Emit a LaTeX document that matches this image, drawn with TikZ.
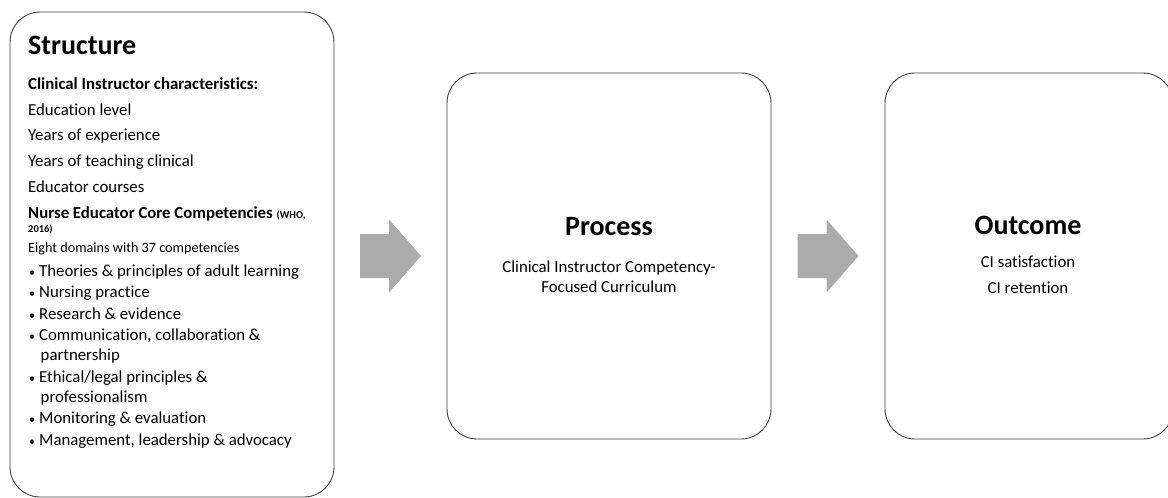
\documentclass[tikz,border=0pt]{standalone}
\usepackage{fontspec}
\setmainfont{Carlito}[Ligatures=NoCommon]
\usetikzlibrary{calc}

\tikzset{blockarrow/.pic={
    \fill[black!33] (-30.5,-22) -- ++(29,0) -- ++(0,-14.5) -- ++(32,36.5)
      -- ++(-32,36.5) -- ++(0,-14.5) -- ++(-29,0) -- cycle;}}

\newcommand{\bul}{{\fontsize{12}{14}\selectfont\textbullet}\hspace{4pt}}

\begin{document}
\begin{tikzpicture}[x=1pt,y=-1pt,
      box/.style={draw=black!75,line width=0.9pt,rounded corners=30pt,inner sep=0pt},
      head/.style={inner sep=0pt,anchor=base,font=\fontsize{28}{32}\selectfont\bfseries},
      item/.style={anchor=base west,inner sep=0pt,font=\fontsize{16.8}{20}\selectfont},
      bolditem/.style={item,font=\fontsize{16.8}{20}\selectfont\bfseries},
      mid/.style={anchor=base,inner sep=0pt,font=\fontsize{16.8}{20}\selectfont}]

      \useasboundingbox (0,0) rectangle (1168,498);

      % the three boxes
      \node[box,minimum width=324pt,minimum height=485pt] (struct) at (172,254.5) {};
      \node[box,minimum width=324pt,minimum height=366pt] (proc) at (609,256) {};
      \node[box,minimum width=288pt,minimum height=366pt] (outc) at (1029,256) {};

      % block arrows between them
      \coordinate (arr1) at ($(struct.east |- proc.west)!0.5!(proc.west)$);
      \coordinate (arr2) at ($(proc.east)!0.5!(outc.west)$);
      \pic at (arr1) {blockarrow};
      \pic at (arr2) {blockarrow};

      % structure
      \node[head,anchor=base west] (stitle) at (28,54) {Structure};
      \node[bolditem] (ci) at (28,89) {Clinical Instructor characteristics:};
      \node[item] (edu) at (28,115) {Education level};
      \node[item] (exp) at (28,140.5) {Years of experience};
      \node[item] (teach) at (28,166) {Years of teaching clinical};
      \node[item] (course) at (28,192) {Educator courses};
      \node[bolditem] (nec) at (28,218) {Nurse Educator Core Competencies
        {\fontsize{10.5}{12}\selectfont (WHO,}};
      \node[item,font=\fontsize{10.5}{12}\selectfont\bfseries] (year) at (28,232) {2016)};
      \node[item,font=\fontsize{14.2}{17}\selectfont] (dom) at (28,252) {Eight domains with 37 competencies};

      \node[item] (b1) at (29,276) {\bul Theories \& principles of adult learning};
      \node[item] (b2) at (29,297.5) {\bul Nursing practice};
      \node[item] (b3) at (29,319) {\bul Research \& evidence};
      \node[item] (b4) at (29,340.5) {\bul Communication, collaboration \&};
      \node[item] (b4b) at (40.5,360) {partnership};
      \node[item] (b5) at (29,382) {\bul Ethical/legal principles \&};
      \node[item] (b5b) at (40.5,402) {professionalism};
      \node[item] (b6) at (29,423.5) {\bul Monitoring \& evaluation};
      \node[item] (b7) at (29,445) {\bul Management, leadership \& advocacy};

      % process
      \node[head] (ptitle) at (609,235) {Process};
      \node[mid] (p1) at (609,272) {Clinical Instructor Competency-};
      \node[mid] (p2) at (609,292) {Focused Curriculum};

      % outcome
      \node[head] (otitle) at (1028,234) {Outcome};
      \node[mid] (o1) at (1028,267) {CI satisfaction};
      \node[mid] (o2) at (1028,293) {CI retention};
    \end{tikzpicture}
\end{document}
